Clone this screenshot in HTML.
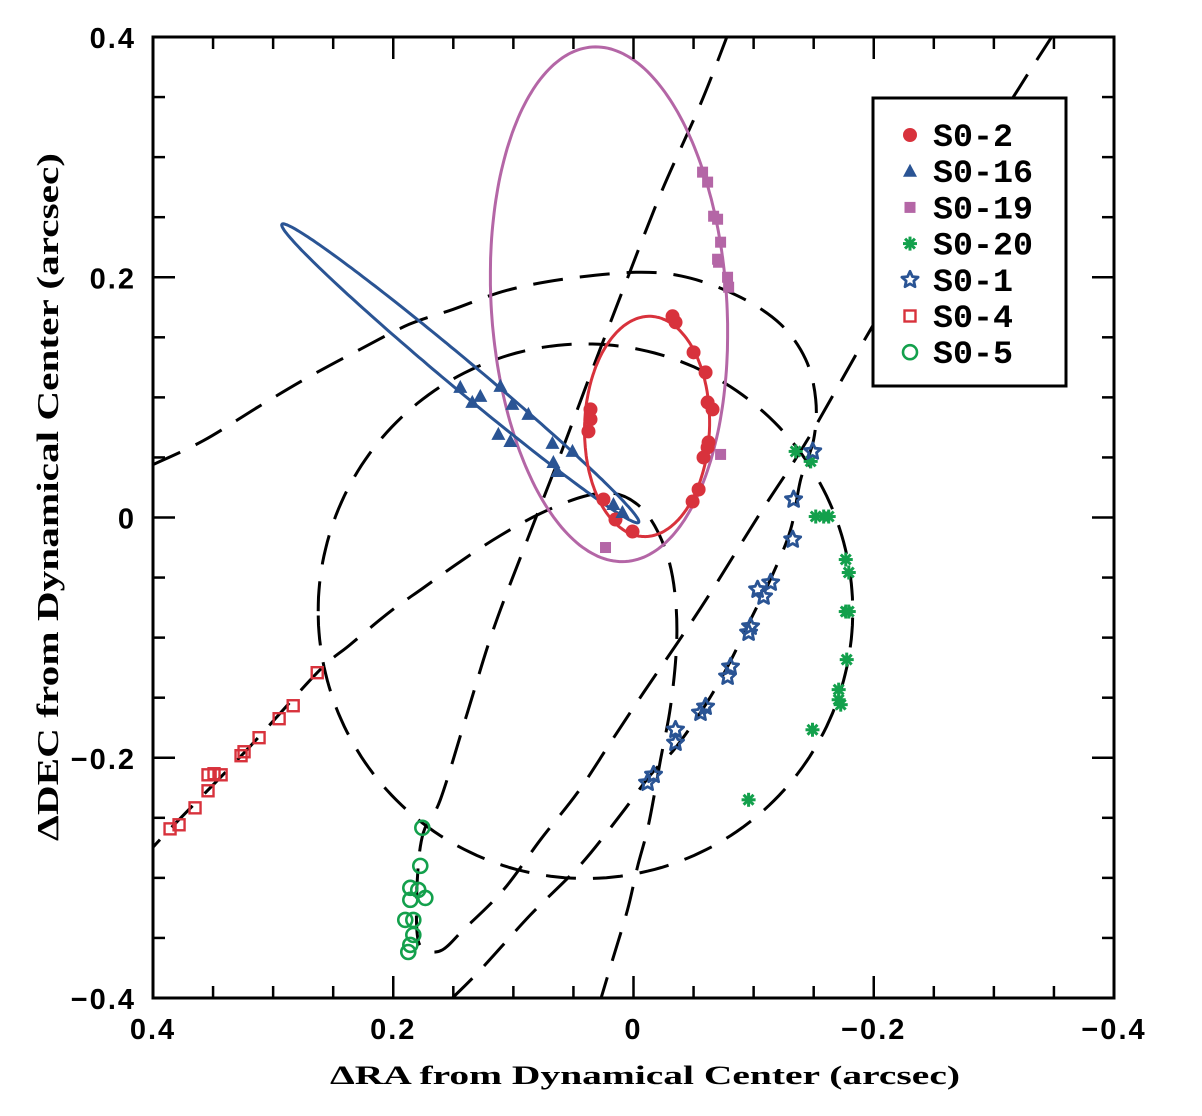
<!DOCTYPE html>
<html><head><meta charset="utf-8">
<style>
html,body{margin:0;padding:0;background:#fff;}
svg{display:block;}
text{font-family:"Liberation Sans",sans-serif;font-weight:bold;fill:#000;}
.ttl{font-family:"Liberation Serif",serif;font-weight:bold;}
.leg{font-family:"Liberation Mono",monospace;font-weight:bold;}
</style></head>
<body>
<svg id="chart" width="1202" height="1116" viewBox="0 0 1202 1116" xmlns="http://www.w3.org/2000/svg">
<defs><clipPath id="plotclip"><rect x="153" y="37" width="961" height="961"/></clipPath></defs>
<g id="dashed" clip-path="url(#plotclip)"></g>
<g id="solid" clip-path="url(#plotclip)"></g>
<g id="marks"></g>
<g id="axes"></g>
<g id="legend"></g>
<text class="ttl" x="645" y="1084" font-size="26" text-anchor="middle" textLength="630" lengthAdjust="spacingAndGlyphs">ΔRA from Dynamical Center (arcsec)</text>
<text class="ttl" x="0" y="0" font-size="31" text-anchor="middle" textLength="688" lengthAdjust="spacingAndGlyphs" transform="translate(58,497) rotate(-90)">ΔDEC from Dynamical Center (arcsec)</text>
</svg>
<script>
// ---- data (arcsec) ----
const xTicks = [0.4, 0.2, 0, -0.2, -0.4];
const yTicks = [0.4, 0.2, 0, -0.2, -0.4];
const tickLabels = ["0.4", "0.2", "0", "\u22120.2", "\u22120.4"];
const minorStep = 0.05;

// solid fitted orbits: [cx, cy, semi-major, semi-minor, angle(deg)]
const orbitS02 = [-0.0113, 0.0758, 0.0917, 0.052, 91.8];
const orbitS016 = [0.1442, 0.12, 0.1935, 0.012, 39.9];
const orbitS019 = [0.0204, 0.1775, 0.2146, 0.098, 86.3];
// dashed orbits
const orbitS020 = [0.04, -0.078, 0.2225, 0.2225, 0];
const pathS01x = [0.4,0.358,0.313,0.2725,0.2275,0.1867,0.15,0.105,0.0525,-0.0067,-0.0475,-0.0892,-0.1225,-0.1433,-0.1517,-0.15,-0.1392,-0.1308,-0.1158,-0.0975,-0.0792,-0.06,-0.035,-0.0142,0.0108,0.0442,0.0858,0.1275,0.1525];
const pathS01y = [0.044,0.064,0.0917,0.1158,0.14,0.1608,0.1733,0.1892,0.1992,0.2042,0.1992,0.1833,0.1608,0.1317,0.0983,0.065,0.0317,-0.01,-0.0475,-0.085,-0.1225,-0.1558,-0.1917,-0.2142,-0.2475,-0.2892,-0.3308,-0.3767,-0.4017];
const pathS04x = [0.4108,0.3858,0.3233,0.2633,0.2358,0.2025,0.1758,0.1442,0.1108,0.0775,0.0417,0.0158,-0.0033,-0.0175,-0.0292,-0.035,-0.0358,-0.0308,-0.0225,-0.0125,-0.0033,0.005,0.0175,0.0275];
const pathS04y = [-0.2867,-0.2592,-0.195,-0.1292,-0.1058,-0.0783,-0.0592,-0.0367,-0.015,0.0033,0.0175,0.02,0.0108,-0.0067,-0.035,-0.0683,-0.1075,-0.1575,-0.2017,-0.2558,-0.2908,-0.3267,-0.3683,-0.4017];
const pathS05x = [-0.3492,-0.3167,-0.2558,-0.1975,-0.145,-0.1058,-0.0642,-0.0367,-0.0083,0.0192,0.0467,0.0775,0.1083,0.1417,0.1592,0.1733,0.18,0.18,0.175,0.1608,0.1383,0.1167,0.0883,0.0608,0.0358,0.0108,-0.0225,-0.0558,-0.0783];
const pathS05y = [0.4017,0.3508,0.2517,0.1567,0.065,0.0042,-0.0625,-0.1042,-0.1458,-0.1875,-0.2292,-0.2683,-0.31,-0.3433,-0.36,-0.36,-0.3475,-0.3017,-0.2625,-0.235,-0.1625,-0.0933,-0.0183,0.0525,0.1192,0.1842,0.2692,0.3442,0.4017];

// observations
const s02x = [-0.0325,-0.035,-0.05,-0.06,-0.0617,-0.0658,-0.0625,-0.0617,-0.0583,-0.0542,-0.0492,0.0358,0.0358,0.0375,0.025,0.015,0.0008];
const s02y = [0.1675,0.1625,0.1375,0.1208,0.0958,0.09,0.0625,0.0583,0.05,0.0233,0.0133,0.09,0.0817,0.0717,0.015,-0.0017,-0.0117];
const s016x = [0.1442,0.1275,0.1342,0.1108,0.1008,0.0875,0.1125,0.1025,0.0675,0.0508,0.0667,0.0633,0.0167,0.0092];
const s016y = [0.1083,0.1008,0.0958,0.1092,0.0942,0.0858,0.0692,0.0633,0.0617,0.055,0.0458,0.0383,0.0108,0.0042];
const s019x = [-0.0575,-0.0617,-0.0667,-0.07,-0.0725,-0.07,-0.0708,-0.0783,-0.0792,-0.0725,0.0233];
const s019y = [0.2875,0.2792,0.2508,0.2483,0.2292,0.215,0.2125,0.2,0.1917,0.0525,-0.025];
const s020x = [-0.135,-0.1475,-0.1517,-0.1583,-0.1625,-0.1767,-0.1792,-0.1767,-0.1792,-0.1775,-0.1708,-0.1708,-0.1725,-0.149,-0.0958];
const s020y = [0.055,0.0467,0.0008,0.0008,0.0008,-0.035,-0.0458,-0.0783,-0.0783,-0.1183,-0.1433,-0.1517,-0.1558,-0.1767,-0.235];
const s01x = [-0.1492,-0.1333,-0.1325,-0.1142,-0.1083,-0.1033,-0.0975,-0.0958,-0.0808,-0.0783,-0.06,-0.0558,-0.035,-0.035,-0.0167,-0.0117];
const s01y = [0.055,0.015,-0.0183,-0.0542,-0.0658,-0.06,-0.0908,-0.0958,-0.1242,-0.1325,-0.1575,-0.1625,-0.1767,-0.1875,-0.2142,-0.2208];
const s04x = [0.2633,0.2833,0.295,0.3117,0.3242,0.3267,0.3433,0.3542,0.3492,0.3542,0.365,0.3783,0.3858];
const s04y = [-0.1292,-0.1567,-0.1675,-0.1833,-0.195,-0.1983,-0.2142,-0.2142,-0.2133,-0.2275,-0.2417,-0.2558,-0.2592];
const s05x = [0.1758,0.1775,0.1858,0.1792,0.1733,0.1858,0.19,0.1833,0.1833,0.1858,0.1875];
const s05y = [-0.2583,-0.29,-0.3083,-0.31,-0.3167,-0.3183,-0.335,-0.335,-0.3475,-0.3558,-0.3617];
const legendLabels = ["S0-2","S0-16","S0-19","S0-20","S0-1","S0-4","S0-5"];

// ---- scales ----
const L=153,R=1114,T=37,B=998;
const X = v => L + (0.4 - v) / 0.8 * (R - L);
const Y = v => T + (0.4 - v) / 0.8 * (B - T);
const NS="http://www.w3.org/2000/svg";
function mk(tag, attrs, parent){const e=document.createElementNS(NS,tag);for(const k in attrs)e.setAttribute(k,attrs[k]);parent.appendChild(e);return e;}

const RED="#d8323c", BLUE="#2a5494", MAG="#b466a6", GREEN="#13a04c";

function ellPath(p){const [cx,cy,a,b,ang]=p;const t=ang*Math.PI/180;let d="";
 for(let i=0;i<=240;i++){const s=i/240*2*Math.PI;const ex=a*Math.cos(s),ey=b*Math.sin(s);
  const x=cx+ex*Math.cos(t)-ey*Math.sin(t), y=cy+ex*Math.sin(t)+ey*Math.cos(t);
  d+=(i?"L":"M")+X(x).toFixed(1)+" "+Y(y).toFixed(1);}return d+"Z";}
function splinePath(xs,ys){const P=xs.map((x,i)=>[X(x),Y(ys[i])]);let d="M"+P[0][0]+" "+P[0][1];
 for(let i=0;i<P.length-1;i++){const p0=P[Math.max(0,i-1)],p1=P[i],p2=P[i+1],p3=P[Math.min(P.length-1,i+2)];
  const c1=[p1[0]+(p2[0]-p0[0])/6,p1[1]+(p2[1]-p0[1])/6],c2=[p2[0]-(p3[0]-p1[0])/6,p2[1]-(p3[1]-p1[1])/6];
  d+="C"+c1[0].toFixed(1)+" "+c1[1].toFixed(1)+" "+c2[0].toFixed(1)+" "+c2[1].toFixed(1)+" "+p2[0].toFixed(1)+" "+p2[1].toFixed(1);}return d;}

const gD=document.getElementById('dashed'), gS=document.getElementById('solid'), gM=document.getElementById('marks');
const dashStyle={fill:"none",stroke:"#000","stroke-width":"3","stroke-dasharray":"30 17"};
let e;
e=mk('path',Object.assign({d:ellPath(orbitS020)},dashStyle),gD);


e=mk('path',Object.assign({d:splinePath(pathS01x,pathS01y)},dashStyle),gD);


e=mk('path',Object.assign({d:splinePath(pathS04x,pathS04y)},dashStyle),gD);


e=mk('path',Object.assign({d:splinePath(pathS05x,pathS05y)},dashStyle),gD);



e=mk('path',{d:ellPath(orbitS019),fill:"none",stroke:MAG,"stroke-width":"3"},gS);


e=mk('path',{d:ellPath(orbitS016),fill:"none",stroke:BLUE,"stroke-width":"3"},gS);


e=mk('path',{d:ellPath(orbitS02),fill:"none",stroke:RED,"stroke-width":"3"},gS);



function starPts(cx,cy,r1,r2){let s="";for(let i=0;i<10;i++){const a=-Math.PI/2+i*Math.PI/5,r=i%2?r2:r1;s+=(cx+r*Math.cos(a)).toFixed(1)+","+(cy+r*Math.sin(a)).toFixed(1)+" ";}return s;}
function marker(type,cx,cy,parent){
 if(type==="S0-2") return mk('circle',{cx,cy,r:7,fill:RED},parent);
 if(type==="S0-16") return mk('polygon',{points:`${cx},${cy-7.5} ${cx+7},${cy+5.5} ${cx-7},${cy+5.5}`,fill:BLUE},parent);
 if(type==="S0-19") return mk('rect',{x:cx-5.5,y:cy-5.5,width:11,height:11,fill:MAG},parent);
 if(type==="S0-20"){const g=mk('g',{stroke:GREEN,"stroke-width":"3"},parent);
   for(let i=0;i<4;i++){const a=i*Math.PI/4;mk('line',{x1:cx-7*Math.cos(a),y1:cy-7*Math.sin(a),x2:cx+7*Math.cos(a),y2:cy+7*Math.sin(a)},g);}return g;}
 if(type==="S0-1") return mk('polygon',{points:starPts(cx,cy,8.5,4),fill:"none",stroke:BLUE,"stroke-width":"2.8","stroke-linejoin":"round"},parent);
 if(type==="S0-4") return mk('rect',{x:cx-5.5,y:cy-5.5,width:11,height:11,fill:"none",stroke:RED,"stroke-width":"2.4"},parent);
 if(type==="S0-5") return mk('circle',{cx,cy,r:7,fill:"none",stroke:GREEN,"stroke-width":"2.6"},parent);
}
const series=[["S0-2",s02x,s02y],["S0-16",s016x,s016y],["S0-19",s019x,s019y],["S0-20",s020x,s020y],["S0-1",s01x,s01y],["S0-4",s04x,s04y],["S0-5",s05x,s05y]];
series.forEach(([name,xs,ys])=>{
 xs.forEach((x,i)=>{const m=marker(name,X(x),Y(ys[i]),gM);
  
  });
});

const gA=document.getElementById('axes');
e=mk('rect',{x:L,y:T,width:R-L,height:B-T,fill:"none",stroke:"#000","stroke-width":"3"},gA);


for(let k=0;k<=16;k++){const v=0.4-k*minorStep;const major=(k%4===0);const len=major?22:12;
 const px=X(v),py=Y(v);
 mk('line',{x1:px,y1:B,x2:px,y2:B-len,stroke:"#000","stroke-width":"2.5"},gA);
 mk('line',{x1:px,y1:T,x2:px,y2:T+len,stroke:"#000","stroke-width":"2.5"},gA);
 mk('line',{x1:L,y1:py,x2:L+len,y2:py,stroke:"#000","stroke-width":"2.5"},gA);
 mk('line',{x1:R,y1:py,x2:R-len,y2:py,stroke:"#000","stroke-width":"2.5"},gA);
}
xTicks.forEach((v,i)=>{const t=mk('text',{x:X(v),y:1039,"font-size":"29","text-anchor":"middle","letter-spacing":"2"},gA);t.textContent=tickLabels[i];
 
 });
yTicks.forEach((v,i)=>{const t=mk('text',{x:136,y:Y(v)+11,"font-size":"29","text-anchor":"end","letter-spacing":"2"},gA);t.textContent=tickLabels[i];
 
 });

const gL=document.getElementById('legend');
e=mk('rect',{x:873,y:98,width:193,height:288,fill:"#fff",stroke:"#000","stroke-width":"3"},gL);


legendLabels.forEach((lab,i)=>{const cy=135+i*36.2;
 const g=mk('g',{},gL);
 
 
 marker(lab,910,cy,g);
 const t=mk('text',{class:"leg",x:933,y:cy+11,"font-size":"32"},g);t.textContent=lab;
 t.setAttribute('textLength',String(lab.length*20));
 t.setAttribute('lengthAdjust','spacingAndGlyphs');
});
</script>
</body></html>
